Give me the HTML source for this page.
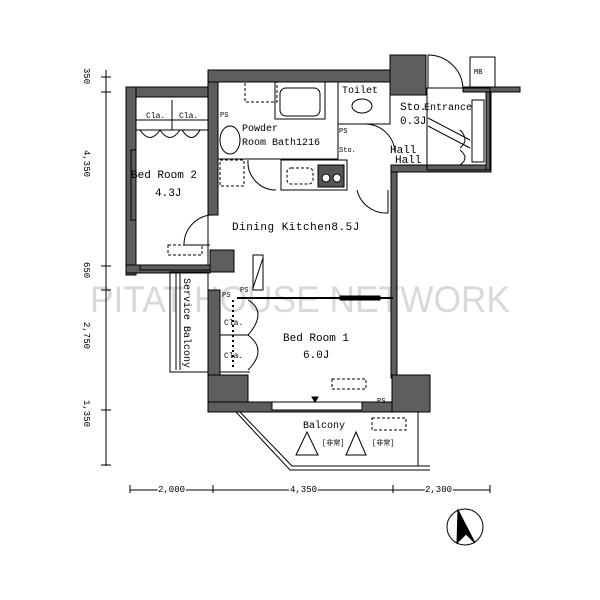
<!DOCTYPE html>
<html><head><meta charset="utf-8"><style>
html,body{margin:0;padding:0;background:#fff;width:600px;height:600px;overflow:hidden}
svg{display:block}
text{font-family:"Liberation Mono",monospace;fill:#000;stroke:none}
</style></head><body>
<svg width="600" height="600" viewBox="0 0 600 600" xmlns="http://www.w3.org/2000/svg">
<text x="90" y="312" textLength="420" lengthAdjust="spacingAndGlyphs" font-size="37" style="fill:#bbb;opacity:0.55;font-family:'Liberation Sans',sans-serif">PITAT HOUSE NETWORK</text>
<g fill="#5e5e5e" stroke="#000" stroke-width="1">
 <rect x="126" y="87" width="84" height="10"/>
 <rect x="126" y="87" width="10" height="188"/>
 <rect x="126" y="265" width="84" height="8"/>
 <rect x="208" y="70" width="10" height="145"/>
 <rect x="208" y="70" width="185" height="12"/>
 <rect x="390" y="55" width="36" height="40"/>
 <rect x="391" y="168" width="6" height="210"/>
 <rect x="391" y="165" width="100" height="7"/>
 <rect x="486" y="88" width="5" height="82"/>
 <rect x="463" y="87" width="57" height="5"/>
 <rect x="210" y="250" width="24" height="22"/>
 <rect x="208" y="290" width="12" height="122"/>
 <rect x="208" y="375" width="40" height="37"/>
 <rect x="208" y="402" width="222" height="10"/>
 <rect x="392" y="375" width="38" height="37"/>
</g>
<g fill="none" stroke="#000" stroke-width="1">
 <rect x="136" y="97" width="72" height="168"/>
 <line x1="136" y1="120" x2="208" y2="120"/><line x1="136" y1="130" x2="208" y2="130"/>
 <line x1="172" y1="100" x2="172" y2="130"/>
 <text x="146" y="118" font-size="8">Cla.</text><text x="179" y="118" font-size="8">Cla.</text>
 <path d="M140 130 Q150 145 160 130 M160 130 Q170 145 180 130 M182 130 Q192 145 200 130"/>
 <rect x="131" y="150" width="5" height="70"/>
 <path d="M210 215 A30 30 0 0 0 184 245 L210 245"/>
 <rect x="168" y="245" width="34" height="10" stroke-dasharray="3,2"/>
 <rect x="140" y="265" width="70" height="5"/>
 <rect x="218" y="82" width="120" height="77"/>
 <rect x="245" y="82" width="32" height="20" stroke-dasharray="3,2"/>
 <rect x="280" y="88" width="40" height="28" rx="6"/>
 <rect x="275" y="82" width="50" height="37"/>
 <ellipse cx="230" cy="140" rx="10" ry="14"/>
 <text x="242" y="131" font-size="10">Powder</text>
 <text x="242" y="145" font-size="10">Room Bath1216</text>
 <text x="220" y="117" font-size="7">PS</text>
 <rect x="220" y="160" width="24" height="26" stroke-dasharray="3,2"/>
 <path d="M248 160 A28 28 0 0 0 276 190"/>
 <rect x="338" y="82" width="52" height="42"/>
 <text x="342" y="93" font-size="10">Toilet</text>
 <ellipse cx="362" cy="106" rx="10" ry="7"/>
 <text x="339" y="133" font-size="7">PS</text>
 <text x="339" y="152" font-size="7">Sto.</text>
 <path d="M365 124 A30 30 0 0 1 395 152"/>
 <rect x="281" y="160" width="66" height="30"/>
 <rect x="287" y="168" width="26" height="16" rx="4" stroke-dasharray="3,2"/>
 <rect x="318" y="165" width="26" height="22" fill="#555"/>
 <circle cx="326" cy="178" r="4" fill="#fff"/><circle cx="337" cy="178" r="4" fill="#fff"/>
 <path d="M357 190 A30 30 0 0 0 388 213 L388 190"/>
 <rect x="427" y="88" width="63" height="82"/>
 <path d="M428 55 A35 35 0 0 1 463 88 M428 55 L428 88"/>
 <rect x="470" y="57" width="25" height="30"/>
 <text x="474" y="74" font-size="7">MB</text>
 <rect x="472" y="100" width="12" height="62"/>
 <line x1="428" y1="118" x2="470" y2="140"/><line x1="428" y1="126" x2="470" y2="148"/>
 <path d="M460 130 Q470 140 460 148 M460 150 Q470 158 460 165"/>
 <text x="400" y="110" font-size="11">Sto.</text>
 <text x="424" y="110" font-size="10">Entrance</text>
 <text x="400" y="124" font-size="11">0.3J</text>
 <text x="390" y="153" font-size="11">Hall</text>
 <text x="395" y="163" font-size="11">Hall</text>
 <text x="232" y="230" font-size="11" letter-spacing="0.5">Dining Kitchen8.5J</text>
 <text x="131" y="178" font-size="11">Bed Room 2</text>
 <text x="155" y="196" font-size="11">4.3J</text>
 <rect x="253" y="255" width="10" height="35"/>
 <line x1="253" y1="288" x2="263" y2="258"/>
 <line x1="237" y1="298" x2="393" y2="298" stroke-width="2"/>
 <rect x="340" y="296" width="40" height="4" fill="#000"/>
 <text x="222" y="297" font-size="7">PS</text>
 <text x="240" y="292" font-size="7">PS</text>
 <line x1="233" y1="300" x2="233" y2="370" stroke-dasharray="2,3" stroke-width="2"/>
 <line x1="220" y1="335" x2="248" y2="335"/>
 <text x="224" y="325" font-size="8">Cla.</text><text x="224" y="358" font-size="8">Cla.</text>
 <path d="M248 300 Q268 312 248 335 Q268 350 248 370"/>
 <line x1="220" y1="372" x2="250" y2="372"/>
 <text x="283" y="341" font-size="11">Bed Room 1</text>
 <text x="303" y="358" font-size="11">6.0J</text>
 <rect x="332" y="379" width="34" height="10" stroke-dasharray="3,2"/>
 <rect x="272" y="402" width="90" height="8" fill="#fff"/>
 <path d="M312 397 L318 397 L315 402 Z" fill="#000"/>
 <text x="377" y="403" font-size="7">PS</text>
 <rect x="170" y="272" width="38" height="100"/>
 <line x1="176" y1="272" x2="176" y2="370"/><line x1="180" y1="272" x2="180" y2="370"/>
 <text font-size="10" transform="translate(184,278) rotate(90)">Service Balcony</text>
 <path d="M236 412 L290 470 L430 470"/>
 <path d="M240 412 L292 466 L430 466"/>
 <line x1="418" y1="412" x2="418" y2="466"/>
 <text x="303" y="428" font-size="10">Balcony</text>
 <path d="M296 455 L307 432 L318 455 Z"/>
 <path d="M346 455 L356 432 L366 455 Z"/>
 <text x="322" y="445" font-size="7">[非常]</text>
 <text x="372" y="445" font-size="7">[非常]</text>
 <rect x="372" y="418" width="34" height="12" stroke-dasharray="3,2"/>
 <line x1="106" y1="70" x2="106" y2="466"/>
 <line x1="101" y1="77" x2="111" y2="77"/><line x1="101" y1="92" x2="111" y2="92"/>
 <line x1="101" y1="266" x2="111" y2="266"/><line x1="101" y1="290" x2="111" y2="290"/>
 <line x1="101" y1="410" x2="111" y2="410"/><line x1="101" y1="465" x2="111" y2="465"/>
 <line x1="130" y1="490" x2="490" y2="490"/>
 <line x1="130" y1="485" x2="130" y2="493"/><line x1="213" y1="485" x2="213" y2="493"/>
 <line x1="393" y1="485" x2="393" y2="493"/><line x1="490" y1="485" x2="490" y2="493"/>
 <circle cx="465" cy="527" r="18"/>
 <path d="M458 510 L475 543 L466 534 L457 543 Z" fill="#000"/>
</g>
<g font-size="9">
 <text transform="translate(84,68) rotate(90)" font-size="9">350</text>
 <text transform="translate(84,150) rotate(90)" font-size="9">4,350</text>
 <text transform="translate(84,262) rotate(90)" font-size="9">650</text>
 <text transform="translate(84,322) rotate(90)" font-size="9">2,750</text>
 <text transform="translate(84,400) rotate(90)" font-size="9">1,350</text>
 <text x="158" y="492" font-size="9" style="paint-order:stroke;stroke:#fff;stroke-width:3">2,000</text>
 <text x="290" y="492" font-size="9" style="paint-order:stroke;stroke:#fff;stroke-width:3">4,350</text>
 <text x="425" y="492" font-size="9" style="paint-order:stroke;stroke:#fff;stroke-width:3">2,300</text>
</g>
</svg>
</body></html>
